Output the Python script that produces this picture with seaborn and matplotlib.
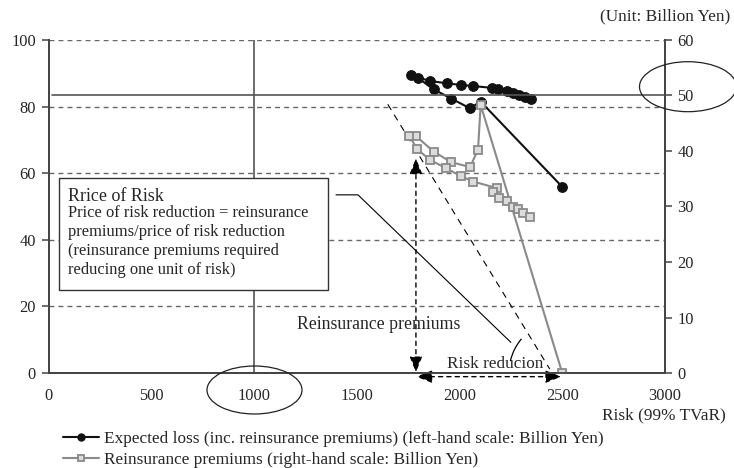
import numpy as np
import pandas as pd
import seaborn as sns
import matplotlib.pyplot as plt
from matplotlib.patches import Ellipse, Rectangle, Arc

sns.set_style("white")
plt.rcParams['font.family'] = ['Liberation Serif', 'DejaVu Serif']

# expected loss (left scale), listed in drawing order
risk_el = [2500, 2103, 2051, 1960, 1874, 1796, 1764, 1856, 1938, 2006, 2064,
           2160, 2189, 2230, 2259, 2291, 2319, 2348]
loss_el = [55.9, 81.5, 79.5, 82.4, 85.2, 88.7, 89.4, 87.7, 87.0, 86.5, 86.2,
           85.6, 85.2, 84.6, 84.1, 83.4, 82.8, 82.3]

# reinsurance premiums (right scale), listed in drawing order
risk_rp = [2500, 2103, 2090, 2051, 1959, 1874, 1788, 1756, 1795, 1856, 1934,
           2006, 2066, 2184, 2161, 2194, 2230, 2262, 2286, 2310, 2343]
prem_rp = [0.0, 48.3, 40.2, 37.1, 38.0, 39.9, 42.7, 42.7, 40.3, 38.4, 36.9,
           35.5, 34.5, 33.3, 32.7, 31.6, 31.0, 29.9, 29.5, 28.9, 28.1]

x_ticks = [0, 500, 1000, 1500, 2000, 2500, 3000]
left_ticks = [0, 20, 40, 60, 80, 100]
right_ticks = [0, 10, 20, 30, 40, 50, 60]

label_el = "Expected loss (inc. reinsurance premiums) (left-hand scale: Billion Yen)"
label_rp = "Reinsurance premiums (right-hand scale: Billion Yen)"
box_lines = ["Price of risk reduction = reinsurance",
             "premiums/price of risk reduction",
             "(reinsurance premiums required",
             "reducing one unit of risk)"]

W, H = 734, 468
fig = plt.figure(figsize=(W / 100, H / 100), dpi=100)
ax = fig.add_axes([48.5 / W, 1 - 373 / H, 616.5 / W, 333 / H])
ax2 = ax.twinx()

axis_col = '#444444'
fs = 12.4

# reference lines and grid
for v in left_ticks[1:]:
    ax.axhline(v, color='#666666', lw=1.0, ls=(0, (3.5, 3)), zorder=0.5)
ax.axvline(1000, color='#555555', lw=1.2, zorder=0.6)
ax2.plot([15, 3000], [50, 50], color='#555555', lw=1.2, zorder=0.6)

# tangent-like dashed line and pointer line
ax.plot([1651, 2439], [80.7, 1.2], color='black', lw=0.8, ls=(0, (6, 5)))
ax.plot([1399, 1506, 2250], [53.5, 53.5, 9.2], color='black', lw=0.8)

sns.lineplot(x=risk_el, y=loss_el, sort=False, estimator=None, ax=ax,
             color='#111111', lw=1.5, marker='o', markersize=7,
             markeredgecolor='#111111', label=label_el, legend=False)
sns.lineplot(x=risk_rp, y=prem_rp, sort=False, estimator=None, ax=ax2,
             color='#8a8a8a', lw=1.5, marker='s', markersize=5.5,
             markerfacecolor='#dcdcdc', markeredgecolor='#8a8a8a',
             markeredgewidth=1.3, label=label_rp, legend=False)

# arrows
arrow_kw = dict(arrowstyle='<|-|>,head_length=0.8,head_width=0.32',
                color='black', lw=1.0, ls=(0, (3, 3)), mutation_scale=12,
                shrinkA=0, shrinkB=0)
ax.annotate('', xy=(1788, 64.5), xytext=(1788, 0.2), arrowprops=arrow_kw,
            annotation_clip=False)
ax.annotate('', xy=(1790, -1.1), xytext=(2495, -1.1), arrowprops=arrow_kw,
            annotation_clip=False)

ax.text(1209, 14.7, "Reinsurance premiums", fontsize=12.8, va='center',
        ha='left')
ax.text(2176, 2.6, "Risk reducion", fontsize=fs, va='center', ha='center')

# axes styling
ax.set_xlim(0, 3000)
ax.set_ylim(0, 100)
ax2.set_ylim(0, 60)
ax.set_xticks(x_ticks)
ax.set_yticks(left_ticks)
ax2.set_yticks(right_ticks)
ax.set_xlabel('')
ax.set_ylabel('')
ax2.set_ylabel('')
for a in (ax, ax2):
    a.spines['top'].set_visible(False)
    for side in ('left', 'right', 'bottom'):
        a.spines[side].set_color(axis_col)
        a.spines[side].set_linewidth(1.3)
    a.tick_params(length=5, width=1.1, color=axis_col, labelsize=11.8, pad=4)
ax.tick_params(axis='x', pad=6)

fig.text(730 / W, 1 - 16.7 / H, "(Unit: Billion Yen)", fontsize=fs,
         ha='right', va='center')
fig.text(726 / W, 1 - 415.7 / H, "Risk (99% TVaR)", fontsize=fs,
         ha='right', va='center')

# explanation box
fig.add_artist(Rectangle((58.7 / W, 1 - 290 / H), 269.6 / W, 111.7 / H,
                         transform=fig.transFigure, facecolor='white',
                         edgecolor='#333333', lw=1.0, zorder=3))
fig.text(67.7 / W, 1 - 196 / H, "Rrice of Risk", fontsize=13,
         ha='left', va='center', zorder=4)
for i, line in enumerate(box_lines):
    fig.text(67.7 / W, 1 - (213.5 + 18.8 * i) / H, line, fontsize=11.9,
             ha='left', va='center', zorder=4)

# ellipses and angle arc
fig.add_artist(Ellipse((254.5 / W, 1 - 390 / H), 95 / W, 48 / H,
                       transform=fig.transFigure, fill=False,
                       edgecolor='#222222', lw=0.9, zorder=3))
fig.add_artist(Ellipse((688 / W, 1 - 86.7 / H), 97 / W, 50 / H,
                       transform=fig.transFigure, fill=False,
                       edgecolor='#222222', lw=0.9, zorder=3))
fig.add_artist(Arc((562 / W, 1 - 373 / H), 106 / W, 106 / H,
                   theta1=127, theta2=160, transform=fig.transFigure,
                   edgecolor='black', lw=0.9, zorder=3))

# legend below the chart
h1, l1 = ax.get_legend_handles_labels()
h2, l2 = ax2.get_legend_handles_labels()
fig.legend(h1 + h2, l1 + l2, loc='upper left',
           bbox_to_anchor=(63 / W, 1 - 431 / H), frameon=False,
           fontsize=fs, handlelength=2.1, handletextpad=0.3,
           borderpad=0, borderaxespad=0, labelspacing=0.3, markerscale=0.75)

fig.savefig('out.png', dpi=100)
